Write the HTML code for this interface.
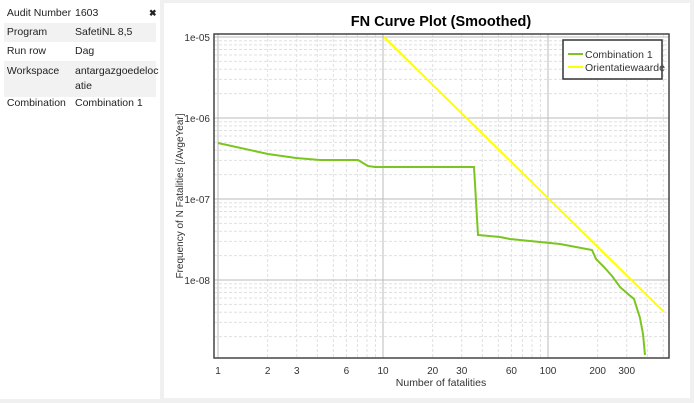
<!DOCTYPE html>
<html><head><meta charset="utf-8"><style>
body{margin:0;width:694px;height:403px;background:#f0f0f0;font-family:"Liberation Sans",sans-serif;overflow:hidden;position:relative}
#left{position:absolute;left:0;top:0;width:160px;height:399px;background:#fff}
.row{position:absolute;left:4px;width:152px;font-size:10.5px;color:#222}
.row span{position:absolute;left:71px;}
.shade{background:#f2f2f2}
#right{position:absolute;left:164px;top:3px;width:526px;height:395px;background:#fff}
</style></head><body>
<div id="left">
<div class="row" style="top:4px;height:19px;line-height:19px">&nbsp;Audit Number<span>1603</span><b style="position:absolute;left:145px;font-size:9px">✖</b></div>
<div class="row shade" style="top:23px;height:19px;line-height:19px">&nbsp;Program<span>SafetiNL 8,5</span></div>
<div class="row" style="top:42px;height:19px;line-height:19px">&nbsp;Run row<span>Dag</span></div>
<div class="row shade" style="top:61px;height:33px;line-height:15px;padding-top:3px">&nbsp;Workspace<span>antargazgoedeloc<br>atie</span></div>
<div class="row" style="top:94px;height:19px;line-height:19px">&nbsp;Combination<span>Combination 1</span></div>
</div>
<div id="right"></div>
<svg id="s" width="694" height="403" style="position:absolute;left:0;top:0"></svg>
<script>
var s=document.getElementById('s'),h='';
function X(n){return 218+165*Math.log10(n);}
function Y(l){return 37+81*(-5-l);}
var L=214,R=669,T=34,B=358;
for(var d=0;d<3;d++)for(var m=1;m<10;m++){var v=m*Math.pow(10,d);var x=X(v);if(x>R)break;
h+='<line x1="'+x+'" y1="'+T+'" x2="'+x+'" y2="'+B+'" stroke="'+(m==1?'#bbb':'#e0e0e0')+'" stroke-width="1"'+(m==1?'':' stroke-dasharray="3,2"')+'/>';}
for(var e=-9;e<=-5;e++)for(var m=1;m<10;m++){var y=Y(e+Math.log10(m));if(y<T||y>B)continue;
h+='<line x1="'+L+'" y1="'+y+'" x2="'+R+'" y2="'+y+'" stroke="'+(m==1?'#bbb':'#e0e0e0')+'" stroke-width="1"'+(m==1?'':' stroke-dasharray="3,2"')+'/>';}
h+='<rect x="'+L+'" y="'+T+'" width="'+(R-L)+'" height="'+(B-T)+'" fill="none" stroke="#444" stroke-width="1.5"/>';
[1,2,3,6,10,20,30,60,100,200,300].forEach(function(n){h+='<text x="'+X(n)+'" y="374" font-size="10" text-anchor="middle" fill="#333">'+n+'</text>';});
[['1e-05',37],['1e-06',118],['1e-07',199],['1e-08',280]].forEach(function(t){h+='<text x="210" y="'+(t[1]+4)+'" font-size="10" text-anchor="end" fill="#333">'+t[0]+'</text>';});
h+='<text x="441" y="386" font-size="10.5" text-anchor="middle" fill="#333">Number of fatalities</text>';
h+='<text transform="translate(183,196) rotate(-90)" font-size="10" text-anchor="middle" fill="#333">Frequency of N Fatalities [/AvgeYear]</text>';
h+='<text x="441" y="26" font-size="14.5" font-weight="bold" text-anchor="middle" fill="#000">FN Curve Plot (Smoothed)</text>';
h+='<line x1="384" y1="37" x2="664" y2="312" stroke="#ffff00" stroke-width="2"/>';
h+='<polyline fill="none" stroke="#7cc520" stroke-width="2" points="218,143 268,154 296,158 320,160 358,160 368,166 375,167 474,167 478,235 500,237 510,239 560,244 592,250 596,259 604,267 612,276 620,287 628,294 634,299 640,318 643,334 645,355"/>';
h+='<rect x="563" y="40" width="99" height="39" fill="#fff" stroke="#333" stroke-width="1.5"/>';
h+='<line x1="568" y1="54" x2="583" y2="54" stroke="#7cc520" stroke-width="2"/><text x="585" y="58" font-size="10.5" fill="#333">Combination 1</text>';
h+='<line x1="568" y1="67" x2="583" y2="67" stroke="#ffff00" stroke-width="2"/><text x="585" y="71" font-size="10.5" fill="#333">Orientatiewaarde</text>';
s.innerHTML=h;
</script>
</body></html>
